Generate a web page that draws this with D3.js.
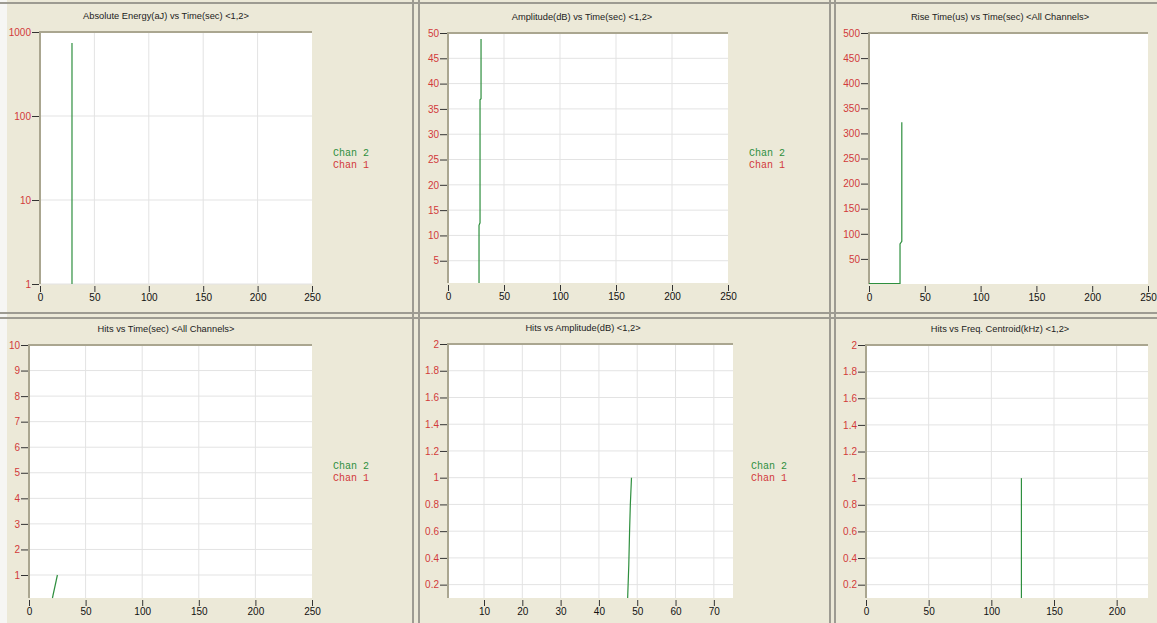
<!DOCTYPE html>
<html>
<head>
<meta charset="utf-8">
<script src="https://cdn.jsdelivr.net/npm/d3@7"></script>
<style>
  body { margin: 0; background: #fff; }
  svg { display: block; font-family: "Liberation Sans", Arial, sans-serif; }
  .tick text { font-size: 10px; }
</style>
</head>
<body>
<div id="chart"></div>
<script>
// data
const timeTicks = [0, 50, 100, 150, 200, 250];
const energyTicks = [1, 10, 100, 1000];
const ampTicks = [5, 10, 15, 20, 25, 30, 35, 40, 45, 50];
const riseTicks = [50, 100, 150, 200, 250, 300, 350, 400, 450, 500];
const hitsTimeTicks = [1, 2, 3, 4, 5, 6, 7, 8, 9, 10];
const hitsTicks = [0.2, 0.4, 0.6, 0.8, 1, 1.2, 1.4, 1.6, 1.8, 2];
const ampXTicks = [10, 20, 30, 40, 50, 60, 70];
const freqTicks = [0, 50, 100, 150, 200];

const energyVsTime = [[29.4, 1], [29.4, 740]];
const ampVsTime = [[27.7, 0.6], [27.7, 12], [28.6, 12.5], [28.6, 36.8], [29.5, 37], [29.5, 48.8]];
const riseVsTime = [[0, 1], [27.8, 1], [27.8, 80], [29.4, 85], [29.4, 322]];
const hitsVsTime = [[20.7, 0.1], [25.1, 1]];
const hitsVsAmp = [[47.5, 0.1], [47.8, 0.35], [48, 0.6], [48.2, 0.8], [48.5, 1]];
const hitsVsFreq = [[124, 0.1], [124, 1]];

const W = 1157, H = 623;
const bg = "#ece9d8", gridCol = "#e3e3e3", frameCol = "#aaa690",
      red = "#d23a3a", green = "#2e8f3e";

const svg = d3.select("#chart").append("svg")
    .attr("width", W).attr("height", H);

svg.append("rect").attr("width", W).attr("height", H).attr("fill", bg);
svg.append("rect").attr("width", 7).attr("height", H).attr("fill", "#f6f6f4");

// panel separators
const sep = svg.append("g").attr("fill", "none");
[[0, 3, W, 3], [0, 313, W, 313], [0, 318, W, 318]].forEach(l =>
    sep.append("line").attr("x1", l[0]).attr("y1", l[1]).attr("x2", l[2]).attr("y2", l[3])
        .attr("stroke", "#9d9b92").attr("stroke-width", 2));
[[413, 0, 413, H], [419, 0, 419, H], [830, 0, 830, H], [835, 0, 835, H]].forEach(l =>
    sep.append("line").attr("x1", l[0]).attr("y1", l[1]).attr("x2", l[2]).attr("y2", l[3])
        .attr("stroke", "#9d9b92").attr("stroke-width", 2));

function renderPanel(p) {
    const g = svg.append("g");
    const x = d3.scaleLinear().domain(p.xDomain).range([p.left, p.right]);
    const y = (p.log ? d3.scaleLog() : d3.scaleLinear()).domain(p.yDomain).range([p.bottom, p.top]);

    g.append("text")
        .attr("x", p.titleX).attr("y", p.top - 13)
        .attr("text-anchor", "middle")
        .attr("font-size", "9.3px").attr("fill", "#222")
        .text(p.title);

    g.append("rect")
        .attr("x", p.left).attr("y", p.top)
        .attr("width", p.right - p.left).attr("height", p.bottom - p.top)
        .attr("fill", "#fff");

    if (p.grid) {
        g.append("g").selectAll("line")
            .data(p.xTicks.filter(d => x(d) > p.left + 1 && x(d) < p.right - 1))
            .join("line")
            .attr("x1", d => x(d)).attr("x2", d => x(d))
            .attr("y1", p.top).attr("y2", p.bottom)
            .attr("stroke", gridCol);
        g.append("g").selectAll("line")
            .data(p.yTicks.filter(d => y(d) > p.top + 1))
            .join("line")
            .attr("x1", p.left).attr("x2", p.right)
            .attr("y1", d => y(d)).attr("y2", d => y(d))
            .attr("stroke", gridCol);
    }

    // top and left frame
    g.append("path")
        .attr("d", `M${p.left},${p.bottom}V${p.top}H${p.right}`)
        .attr("fill", "none").attr("stroke", frameCol).attr("stroke-width", 2);

    const yAxis = g.append("g")
        .attr("transform", `translate(${p.left - 1},0)`)
        .call(d3.axisLeft(y).tickValues(p.yTicks).tickSize(7).tickPadding(1)
            .tickFormat(d3.format("~g")));
    yAxis.select(".domain").remove();
    yAxis.selectAll("line").attr("stroke", "#333");
    yAxis.selectAll("text").attr("fill", red);

    const xAxis = g.append("g")
        .attr("transform", `translate(0,${p.bottom + 2})`)
        .call(d3.axisBottom(x).tickValues(p.xTicks).tickSize(6).tickPadding(2));
    xAxis.select(".domain").remove();
    xAxis.selectAll("line").attr("stroke", "#333");
    xAxis.selectAll("text").attr("fill", "#111");

    g.append("path")
        .datum(p.data)
        .attr("d", d3.line().x(d => x(d[0])).y(d => y(d[1])))
        .attr("fill", "none").attr("stroke", green).attr("stroke-width", 1.2);

    if (p.legend) {
        const lg = g.append("g").attr("font-family", "'Liberation Mono', 'Courier New', monospace")
            .attr("font-size", "10px");
        lg.append("text").attr("x", p.legend[0]).attr("y", p.legend[1])
            .attr("fill", green).text("Chan 2");
        lg.append("text").attr("x", p.legend[0]).attr("y", p.legend[1] + 12)
            .attr("fill", red).text("Chan 1");
    }
}

renderPanel({
    title: "Absolute Energy(aJ) vs Time(sec) <1,2>", titleX: 166,
    left: 40, right: 312, top: 32, bottom: 284,
    xDomain: [0, 250], yDomain: [1, 1000], log: true,
    xTicks: timeTicks, yTicks: energyTicks, grid: true,
    data: energyVsTime, legend: [333, 156]
});
renderPanel({
    title: "Amplitude(dB) vs Time(sec) <1,2>", titleX: 582,
    left: 448, right: 728, top: 33, bottom: 283,
    xDomain: [0, 250], yDomain: [0.6, 50],
    xTicks: timeTicks, yTicks: ampTicks, grid: true,
    data: ampVsTime, legend: [749, 156]
});
renderPanel({
    title: "Rise Time(us) vs Time(sec) <All Channels>", titleX: 1000,
    left: 869, right: 1148, top: 33, bottom: 284,
    xDomain: [0, 250], yDomain: [0, 500],
    xTicks: timeTicks, yTicks: riseTicks, grid: false,
    data: riseVsTime
});
renderPanel({
    title: "Hits vs Time(sec) <All Channels>", titleX: 166,
    left: 29, right: 312, top: 345, bottom: 598,
    xDomain: [0, 250], yDomain: [0.1, 10],
    xTicks: timeTicks, yTicks: hitsTimeTicks, grid: true,
    data: hitsVsTime, legend: [333, 469]
});
renderPanel({
    title: "Hits vs Amplitude(dB) <1,2>", titleX: 583,
    left: 448, right: 733, top: 344, bottom: 598,
    xDomain: [0.6, 75], yDomain: [0.1, 2],
    xTicks: ampXTicks, yTicks: hitsTicks, grid: true,
    data: hitsVsAmp, legend: [751, 469]
});
renderPanel({
    title: "Hits vs Freq. Centroid(kHz) <1,2>", titleX: 1000,
    left: 866, right: 1148, top: 345, bottom: 598,
    xDomain: [0, 225], yDomain: [0.1, 2],
    xTicks: freqTicks, yTicks: hitsTicks, grid: true,
    data: hitsVsFreq
});
</script>
</body>
</html>
